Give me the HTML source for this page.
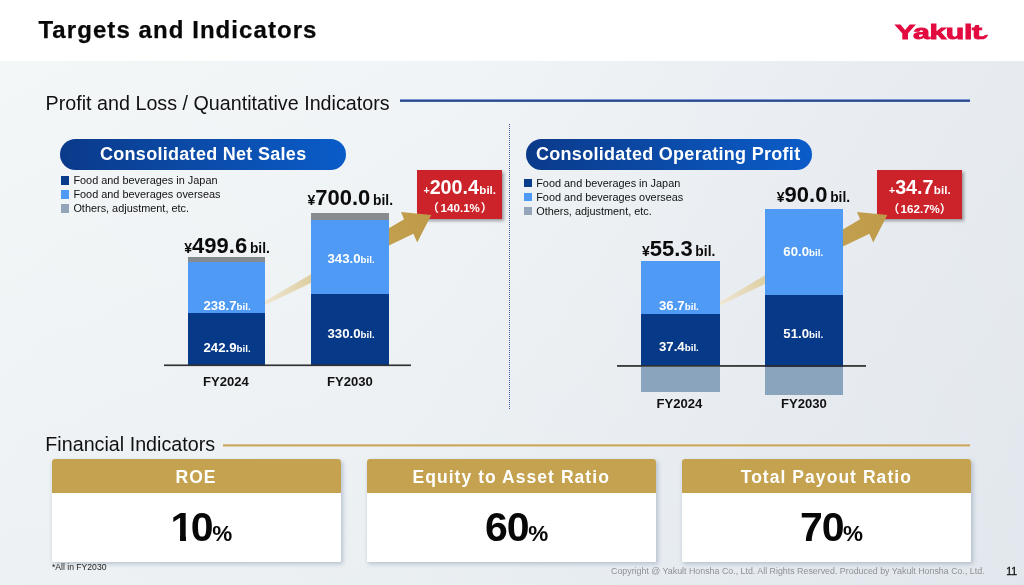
<!DOCTYPE html>
<html lang="en">
<head>
<meta charset="utf-8">
<title>Targets and Indicators</title>
<style>
*{box-sizing:border-box;margin:0;padding:0}
html,body{width:1024px;height:585px;overflow:hidden;background:#fff}
body{font-family:"Liberation Sans","Noto Sans CJK JP",sans-serif;color:#111;position:relative}
.abs{position:absolute;white-space:nowrap;line-height:1}
.b{font-weight:bold}
.w{color:#fff}
#main{position:absolute;left:0;top:61px;width:1024px;height:524px;
 background:linear-gradient(180deg,rgba(214,222,230,0) 0%,rgba(214,222,230,.22) 100%),linear-gradient(100deg,#f4f7f8 0%,#f0f4f6 42%,#e9edf2 78%,#e5eaef 100%)}
.pill{position:absolute;height:31px;border-radius:16px;background:linear-gradient(90deg,#0a3a8a 0%,#0b4aa6 45%,#0a5cc9 100%)}
.red{position:absolute;background:#cc2229;box-shadow:2px 2px 3px rgba(0,0,0,.35)}
.card{position:absolute;top:459.4px;height:102.2px;background:#fff;border-radius:3px 3px 1px 1px;box-shadow:1.5px 2px 4px rgba(90,110,140,.35);overflow:hidden}
.card .h{height:33.9px;background:#c4a24f}
</style>
</head>
<body>
<div id="main"></div>
<div class="abs b" style="left:38.40px;top:18.28px;font-size:24px;letter-spacing:1.07px;color:#080808;-webkit-text-stroke:0.25px #080808">Targets and Indicators</div>
<div id="logo" class="abs b" style="left:895.3px;top:21.9px;font-size:20.6px;color:#e20a3f;transform-origin:0 0;transform:scaleX(1.47);-webkit-text-stroke:0.9px #e20a3f;letter-spacing:-0.3px">Yakult</div>
<svg style="position:absolute;left:960px;top:20px" width="40" height="26" viewBox="960 20 40 26"><path d="M978.2 36.2 Q979.5 39.9 983.6 39.2 Q987.2 38.3 988 34.5 L984.6 35.3 Q983.6 36.6 981.6 36.4 Z" fill="#e20a3f"/></svg>
<div class="abs " style="left:45.60px;top:94.32px;font-size:19.7px;letter-spacing:0.01px;color:#111">Profit and Loss / Quantitative Indicators</div>
<div class="" style="position:absolute;left:399.5px;top:99px;width:570.5px;height:3px;background:linear-gradient(180deg,#7d97cc 0,#7d97cc 1px,#2c4a8c 1px,#2c4a8c 2px,#3f5ea2 2px);"></div>
<div style="position:absolute;left:509px;top:124px;width:0;height:285px;border-left:1px dotted #3f5cab"></div>
<div class="red" style="left:417px;top:170px;width:85px;height:49px">
<div class="abs b w" style="left:6.50px;top:8.32px;font-size:19.7px;"><span style="font-size:10.5px">+</span>200.4<span style="font-size:11.6px;margin-left:0.4px">bil.</span></div>
<div class="abs b w" style="left:10.25px;top:32.48px;font-size:11.6px;"><span style="margin-right:1.75px">（</span>140.1%<span style="margin-left:.75px">）</span></div>
</div>
<div class="red" style="left:877px;top:170px;width:85px;height:49px">
<div class="abs b w" style="left:12.00px;top:8.32px;font-size:19.7px;"><span style="font-size:10.5px">+</span>34.7<span style="font-size:11.6px;margin-left:0.4px">bil.</span></div>
<div class="abs b w" style="left:10.85px;top:32.98px;font-size:11.6px;"><span style="margin-right:1.15px">（</span>162.7%<span style="margin-left:-.3px">）</span></div>
</div>
<svg style="position:absolute;left:0;top:0" width="1024" height="585" viewBox="0 0 1024 585">
<defs>
<linearGradient id="ga" gradientUnits="userSpaceOnUse" x1="265" y1="302" x2="432" y2="215">
<stop offset="0" stop-color="#efe6d2"/><stop offset="0.3" stop-color="#dccb9d"/><stop offset="0.62" stop-color="#c3a152"/><stop offset="1" stop-color="#bf9b48"/>
</linearGradient>
<linearGradient id="gb" gradientUnits="userSpaceOnUse" x1="721" y1="302" x2="888" y2="215">
<stop offset="0" stop-color="#efe6d2"/><stop offset="0.3" stop-color="#dccb9d"/><stop offset="0.62" stop-color="#c3a152"/><stop offset="1" stop-color="#bf9b48"/>
</linearGradient>
</defs>
<polygon fill="url(#ga)" points="262,303.06 404.1,219.3 401,211.9 431.3,215 417.2,242.4 413.4,233.8 262,306.5"/>
<polygon fill="url(#gb)" points="718,303.06 860.1,219.3 857,211.9 887.3,215 873.2,242.4 869.4,233.8 718,306.5"/>
</svg>
<div class="pill" style="left:60px;top:138.8px;width:286px">
<div class="abs b w" style="left:40.00px;top:6.16px;font-size:18px;letter-spacing:0.29px">Consolidated Net Sales</div>
</div>
<div class="" style="position:absolute;left:60.6px;top:176px;width:8.5px;height:8.6px;background:#0a3c8c;"></div>
<div class="" style="position:absolute;left:60.6px;top:190px;width:8.5px;height:8.8px;background:#4f9af5;"></div>
<div class="" style="position:absolute;left:60.6px;top:204.4px;width:8.5px;height:8.6px;background:#93a5b9;"></div>
<div class="abs " style="left:73.40px;top:174.97px;font-size:10.9px;color:#111">Food and beverages in Japan</div>
<div class="abs " style="left:73.40px;top:189.07px;font-size:10.9px;color:#111">Food and beverages overseas</div>
<div class="abs " style="left:73.40px;top:203.17px;font-size:10.9px;color:#111">Others, adjustment, etc.</div>
<div class="" style="position:absolute;left:188px;top:257px;width:77.3px;height:5px;background:#868b8f;"></div>
<div class="" style="position:absolute;left:188px;top:261.5px;width:77.3px;height:52px;background:#4f9af5;"></div>
<div class="" style="position:absolute;left:188px;top:313px;width:77.3px;height:52px;background:#063a88;"></div>
<div class="" style="position:absolute;left:311.4px;top:213.3px;width:77.5px;height:7px;background:#868b8f;"></div>
<div class="" style="position:absolute;left:311.4px;top:220px;width:77.5px;height:74px;background:#4f9af5;"></div>
<div class="" style="position:absolute;left:311.4px;top:293.8px;width:77.5px;height:71.4px;background:#063a88;"></div>
<div class="" style="position:absolute;left:164.2px;top:364px;width:247.3px;height:3px;background:linear-gradient(180deg,rgba(45,45,45,.55) 0%,rgba(45,45,45,.55) 33%,rgba(40,40,40,.95) 34%,rgba(40,40,40,.95) 66%,rgba(45,45,45,.12) 67%);"></div>
<div class="abs b" style="left:184.30px;top:234.78px;font-size:22px;color:#0b0b0b"><span style="font-size:14px">¥</span>499.6<span style="font-size:13.8px;margin-left:-1.1px"> bil.</span></div>
<div class="abs b" style="left:307.50px;top:187.18px;font-size:22px;color:#0b0b0b"><span style="font-size:14px">¥</span>700.0<span style="font-size:13.8px;margin-left:-1.1px"> bil.</span></div>
<div class="abs b w" style="left:203.50px;top:298.83px;font-size:13.2px;">238.7<span style="font-size:9.8px">bil.</span></div>
<div class="abs b w" style="left:203.50px;top:340.83px;font-size:13.2px;">242.9<span style="font-size:9.8px">bil.</span></div>
<div class="abs b w" style="left:327.50px;top:251.83px;font-size:13.2px;">343.0<span style="font-size:9.8px">bil.</span></div>
<div class="abs b w" style="left:327.50px;top:326.83px;font-size:13.2px;">330.0<span style="font-size:9.8px">bil.</span></div>
<div class="abs b" style="left:203.00px;top:374.71px;font-size:13.1px;">FY2024</div>
<div class="abs b" style="left:327.00px;top:374.71px;font-size:13.1px;">FY2030</div>
<div class="pill" style="left:525.5px;top:138.8px;width:286px">
<div class="abs b w" style="left:10.50px;top:6.16px;font-size:18px;letter-spacing:0.29px">Consolidated Operating Profit</div>
</div>
<div class="" style="position:absolute;left:523.7px;top:178.6px;width:8.7px;height:8.4px;background:#0a3c8c;"></div>
<div class="" style="position:absolute;left:523.7px;top:192.6px;width:8.7px;height:8.6px;background:#4f9af5;"></div>
<div class="" style="position:absolute;left:523.7px;top:207px;width:8.7px;height:8.2px;background:#93a5b9;"></div>
<div class="abs " style="left:536.20px;top:177.57px;font-size:10.9px;color:#111">Food and beverages in Japan</div>
<div class="abs " style="left:536.20px;top:191.77px;font-size:10.9px;color:#111">Food and beverages overseas</div>
<div class="abs " style="left:536.20px;top:205.97px;font-size:10.9px;color:#111">Others, adjustment, etc.</div>
<div class="" style="position:absolute;left:641.2px;top:261.3px;width:78.5px;height:53px;background:#4f9af5;"></div>
<div class="" style="position:absolute;left:641.2px;top:313.8px;width:78.5px;height:52.7px;background:#063a88;"></div>
<div class="" style="position:absolute;left:641.2px;top:366.5px;width:78.5px;height:25.4px;background:#8ba4bd;"></div>
<div class="" style="position:absolute;left:764.6px;top:209.2px;width:78.4px;height:86px;background:#4f9af5;"></div>
<div class="" style="position:absolute;left:764.6px;top:295px;width:78.4px;height:71.5px;background:#063a88;"></div>
<div class="" style="position:absolute;left:764.6px;top:366.5px;width:78.4px;height:28.7px;background:#8ba4bd;"></div>
<div class="" style="position:absolute;left:617.2px;top:365px;width:248.8px;height:2px;background:linear-gradient(180deg,rgba(45,45,45,.92) 0%,rgba(45,45,45,.92) 50%,rgba(45,45,45,.8) 51%);"></div>
<div class="abs b" style="left:642.00px;top:238.38px;font-size:22px;color:#0b0b0b"><span style="font-size:14px">¥</span>55.3<span style="font-size:13.8px;margin-left:-1.1px"> bil.</span></div>
<div class="abs b" style="left:776.80px;top:183.98px;font-size:22px;color:#0b0b0b"><span style="font-size:14px">¥</span>90.0<span style="font-size:13.8px;margin-left:-1.1px"> bil.</span></div>
<div class="abs b w" style="left:659.00px;top:298.83px;font-size:13.2px;">36.7<span style="font-size:9.8px">bil.</span></div>
<div class="abs b w" style="left:659.00px;top:340.13px;font-size:13.2px;">37.4<span style="font-size:9.8px">bil.</span></div>
<div class="abs b w" style="left:783.30px;top:244.73px;font-size:13.2px;">60.0<span style="font-size:9.8px">bil.</span></div>
<div class="abs b w" style="left:783.30px;top:326.83px;font-size:13.2px;">51.0<span style="font-size:9.8px">bil.</span></div>
<div class="abs b" style="left:656.50px;top:397.11px;font-size:13.1px;">FY2024</div>
<div class="abs b" style="left:781.00px;top:397.11px;font-size:13.1px;">FY2030</div>
<div class="abs " style="left:45.30px;top:434.52px;font-size:19.7px;letter-spacing:0.01px;color:#111">Financial Indicators</div>
<div class="" style="position:absolute;left:222.5px;top:444px;width:747.5px;height:3px;background:linear-gradient(180deg,#d6c08e 0,#d6c08e 1px,#c8a558 1px,#c8a558 2px,#dfd0ad 2px);"></div>
<div class="card" style="left:52px;width:288.6px"><div class="h"></div>
<div class="abs b w" style="left:-56.00px;width:400px;text-align:center;top:9.39px;font-size:17.5px;letter-spacing:1.05px">ROE</div>
<div class="abs b" style="left:-50.60px;width:400px;text-align:center;top:47.79px;font-size:41px;color:#080808"><span style="letter-spacing:-1.1px"><span style="letter-spacing:-2.6px">1</span>0</span><span style="font-size:22.5px;margin-left:-0.3px">%</span></div>
<div class="" style="position:absolute;left:120px;top:76.6px;width:8px;height:6px;background:#fff;"></div>
<div class="" style="position:absolute;left:134px;top:76.6px;width:7.2px;height:6px;background:#fff;"></div>
</div>
<div class="card" style="left:367.2px;width:289px"><div class="h"></div>
<div class="abs b w" style="left:-56.00px;width:400px;text-align:center;top:9.39px;font-size:17.5px;letter-spacing:1.05px">Equity to Asset Ratio</div>
<div class="abs b" style="left:-50.60px;width:400px;text-align:center;top:47.79px;font-size:41px;color:#080808"><span style="letter-spacing:-1.1px">60</span><span style="font-size:22.5px;margin-left:-0.3px">%</span></div>
</div>
<div class="card" style="left:682px;width:289px"><div class="h"></div>
<div class="abs b w" style="left:-55.70px;width:400px;text-align:center;top:9.39px;font-size:17.5px;letter-spacing:1.05px">Total Payout Ratio</div>
<div class="abs b" style="left:-50.50px;width:400px;text-align:center;top:47.79px;font-size:41px;color:#080808"><span style="letter-spacing:-1.1px">70</span><span style="font-size:22.5px;margin-left:-0.3px">%</span></div>
</div>
<div class="abs " style="left:52.00px;top:563.02px;font-size:8.6px;color:#222">*All in FY2030</div>
<div class="abs " style="left:611.00px;top:566.81px;font-size:8.85px;color:#8d9196">Copyright @ Yakult Honsha Co., Ltd. All Rights Reserved. Produced by Yakult Honsha Co., Ltd.</div>
<div class="abs " style="left:1006.30px;top:566.11px;font-size:10.5px;color:#111;-webkit-text-stroke:0.3px #111">11</div>
</body>
</html>
